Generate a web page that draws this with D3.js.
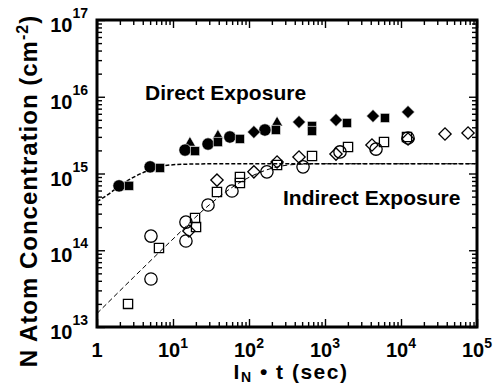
<!DOCTYPE html>
<html>
<head>
<meta charset="UTF-8">
<title>N Atom Concentration</title>
<script src="https://cdn.jsdelivr.net/npm/d3@7"></script>
<style>
  body { margin: 0; background: #fff; }
  text { font-family: "Liberation Sans", Arial, sans-serif; font-weight: bold; fill: #000; }
</style>
</head>
<body>
<svg id="chart" width="497" height="387"></svg>
<script>
// tick labels (powers of ten)
const xExps = [0, 1, 2, 3, 4, 5];
const yExps = [13, 14, 15, 16, 17];

// Direct exposure (filled symbols): I_N*t (sec), N (cm-2)
const directCircleT = [1.95, 5.0, 14.4, 28.9, 56, 162];
const directCircleN = [6.9e14, 1.22e15, 2.02e15, 2.42e15, 2.99e15, 3.69e15];
const directSquareT = [2.64, 6.75, 19.5, 39, 76, 226, 675, 675, 1946, 6155];
const directSquareN = [6.9e14, 1.18e15, 1.96e15, 2.57e15, 2.82e15, 3.69e15, 4.16e15, 3.58e15, 4.55e15, 5.29e15];
const directTriT = [16.7, 39, 234];
const directTriN = [2.5e15, 3.1e15, 4.6e15];
const directDiamT = [116, 455, 1396, 4283, 12370];
const directDiamN = [3.47e15, 4.69e15, 4.98e15, 5.61e15, 6.33e15];

// Indirect exposure (open symbols)
const indirCircleT = [5.13, 5.13, 14.8, 14.8, 28.9, 59.7, 172, 514, 1575, 4690, 12370];
const indirCircleN = [1.53e14, 4.22e13, 2.33e14, 1.32e14, 3.89e14, 5.92e14, 1.05e15, 1.22e15, 1.91e15, 2.08e15, 2.90e15];
const indirSquareT = [2.56, 6.54, 19.5, 20.1, 37.9, 76, 76, 234, 675, 2009, 5975, 11990];
const indirSquareN = [2.0e13, 1.07e14, 2.63e14, 2.01e14, 5.74e14, 9.0e14, 7.52e14, 1.29e15, 1.69e15, 2.21e15, 2.57e15, 2.99e15];
const indirDiamT = [16.2, 37.9, 116, 234, 455, 1396, 4150, 12370, 37930, 76200];
const indirDiamN = [1.78e14, 8.2e14, 1.05e15, 1.41e15, 1.64e15, 1.79e15, 2.35e15, 2.82e15, 3.27e15, 3.37e15];

// dashed fit curves
const directFitT = [1, 1.5, 2, 3, 5, 7, 10, 20, 50, 100000];
const directFitN = [4.3e14, 5.6e14, 7.0e14, 8.9e14, 1.12e15, 1.24e15, 1.30e15, 1.33e15, 1.34e15, 1.34e15];
const indirFitT = [1, 3, 10, 30, 60, 100, 200, 400, 1000, 100000];
const indirFitN = [1.5e13, 4.4e13, 1.4e14, 3.9e14, 6.6e14, 8.9e14, 1.17e15, 1.31e15, 1.34e15, 1.34e15];

const margin = {left: 97, top: 20, right: 20, bottom: 60};
const W = 497, H = 387;
const svg = d3.select("#chart");

const x = d3.scaleLog().domain([1, 1e5]).range([margin.left, W - margin.right]);
const y = d3.scaleLog().domain([1e13, 1e17]).range([H - margin.bottom, margin.top]);

const xAll = x.ticks();
const xMajor = xAll.filter(d => Math.abs(Math.log10(d) % 1) < 1e-9);
const xMinor = xAll.filter(d => Math.abs(Math.log10(d) % 1) >= 1e-9);
const yAll = y.ticks();
const yMajor = yAll.filter(d => Math.abs(Math.log10(d) % 1) < 1e-9);
const yMinor = yAll.filter(d => Math.abs(Math.log10(d) % 1) >= 1e-9);

function tickAxis(axis, vals, size, tr) {
  const g = svg.append("g")
    .attr("transform", tr)
    .call(axis.tickValues(vals).tickSize(-size).tickFormat(""));
  g.select(".domain").remove();
  g.selectAll("line").attr("stroke", "#000").attr("stroke-width", 1.4);
}
const x0 = margin.left, x1 = W - margin.right, y0 = margin.top, y1 = H - margin.bottom;
tickAxis(d3.axisBottom(x), xMajor, 8, `translate(0,${y1})`);
tickAxis(d3.axisBottom(x), xMinor, 5, `translate(0,${y1})`);
tickAxis(d3.axisTop(x), xMajor, 8, `translate(0,${y0})`);
tickAxis(d3.axisTop(x), xMinor, 5, `translate(0,${y0})`);
tickAxis(d3.axisLeft(y), yMajor, 8, `translate(${x0},0)`);
tickAxis(d3.axisLeft(y), yMinor, 5, `translate(${x0},0)`);
tickAxis(d3.axisRight(y), yMajor, 8, `translate(${x1},0)`);
tickAxis(d3.axisRight(y), yMinor, 5, `translate(${x1},0)`);

// frame
svg.append("rect")
  .attr("x", x0).attr("y", y0)
  .attr("width", x1 - x0).attr("height", y1 - y0)
  .attr("fill", "none").attr("stroke", "#000").attr("stroke-width", 3);

// fit curves
const line = d3.line().x(d => x(d[0])).y(d => y(d[1])).curve(d3.curveMonotoneX);
svg.append("path")
  .attr("d", line(indirFitT.map((t, i) => [t, indirFitN[i]])))
  .attr("fill", "none").attr("stroke", "#000").attr("stroke-width", 1)
  .attr("stroke-dasharray", "5,3");
svg.append("path")
  .attr("d", line(directFitT.map((t, i) => [t, directFitN[i]])))
  .attr("fill", "none").attr("stroke", "#000").attr("stroke-width", 1.5)
  .attr("stroke-dasharray", "4,2");

// markers
function markers(T, N, type, size, filled, rot) {
  svg.append("g").selectAll("path")
    .data(T.map((t, i) => [t, N[i]]))
    .join("path")
    .attr("d", d3.symbol().type(type).size(size))
    .attr("transform", d => `translate(${x(d[0])},${y(d[1])}) rotate(${rot || 0})`)
    .attr("fill", filled ? "#000" : "none")
    .attr("stroke", filled ? "#fff" : "#000")
    .attr("stroke-width", filled ? 0.6 : 1.3);
}
markers(indirSquareT, indirSquareN, d3.symbolSquare, 85, false);
markers(indirCircleT, indirCircleN, d3.symbolCircle, 120, false);
markers(indirDiamT, indirDiamN, d3.symbolSquare, 75, false, 45);

markers(directTriT, directTriN, d3.symbolTriangle, 55, true);
markers(directCircleT, directCircleN, d3.symbolCircle, 120, true);
markers(directSquareT, directSquareN, d3.symbolSquare, 85, true);
markers(directDiamT, directDiamN, d3.symbolSquare, 85, true, 45);

// tick labels
yExps.forEach(e => {
  const t = svg.append("text")
    .attr("x", x0 - 9).attr("y", y(Math.pow(10, e)) + 12)
    .attr("text-anchor", "end").style("font-size", "20px");
  t.append("tspan").text("10");
  t.append("tspan").attr("dy", -14).style("font-size", "14px").text(e);
});
xExps.forEach(e => {
  const t = svg.append("text")
    .attr("x", x(Math.pow(10, e))).attr("y", y1 + 30)
    .attr("text-anchor", "middle").style("font-size", "20px");
  if (e === 0) { t.text("1"); return; }
  t.append("tspan").text("10");
  t.append("tspan").attr("dy", -9).style("font-size", "14px").text(e);
});

// annotations
svg.append("text").attr("x", 145).attr("y", 100).style("font-size", "21px").text("Direct Exposure");
svg.append("text").attr("x", 283).attr("y", 205).style("font-size", "21px").text("Indirect Exposure");

// axis titles
const xt = svg.append("text")
  .attr("x", 291).attr("y", 379).attr("text-anchor", "middle")
  .style("font-size", "21px").style("letter-spacing", "1.5px");
xt.append("tspan").text("I");
xt.append("tspan").attr("dy", 3).style("font-size", "14px").text("N");
xt.append("tspan").attr("dy", -3).text(" \u2022 t (sec)");

const yt = svg.append("text")
  .attr("transform", `translate(37,191) rotate(-90)`)
  .attr("text-anchor", "middle")
  .style("font-size", "24px").style("letter-spacing", "1px");
yt.append("tspan").text("N Atom Concentration (cm");
yt.append("tspan").attr("dy", -9).style("font-size", "16px").text("-2");
yt.append("tspan").attr("dy", 9).text(")");
</script>
</body>
</html>
